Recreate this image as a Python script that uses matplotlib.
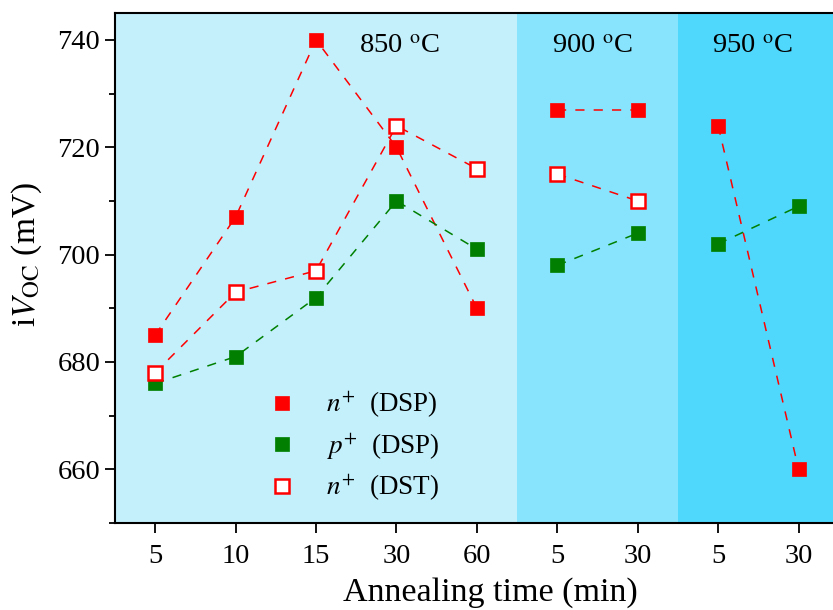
import matplotlib
matplotlib.use('Agg')
import matplotlib.pyplot as plt
from matplotlib.ticker import MultipleLocator

plt.rcParams['font.family'] = 'Liberation Serif'
plt.rcParams['mathtext.fontset'] = 'stix'

tick_labels = ['5', '10', '15', '30', '60', '5', '30', '5', '30']
temps = ['850', '900', '950']
groups = [[0, 1, 2, 3, 4], [5, 6], [7, 8]]

n_dsp = [685, 707, 740, 720, 690, 727, 727, 724, 660]
p_dsp = [676, 681, 692, 710, 701, 698, 704, 702, 709]
n_dst = [678, 693, 697, 724, 716, 715, 710]

band_colors = ['#C4F0FC', '#88E4FC', '#4FD8FC']

fig = plt.figure(figsize=(8.33, 6.10), dpi=100)
ax = fig.add_axes([0.138, 0.1426, 0.869, 0.836])

# temperature bands
for g, c, t in zip(groups, band_colors, temps):
    ax.axvspan(g[0] - 0.5, g[-1] + 0.5, color=c, lw=0, zorder=0)

label_x = [3.04, 5.44, 7.43]
for lx, t in zip(label_x, temps):
    ax.text(lx, 738.8, t + r' $^{\mathrm{o}}$C', fontsize=20.5, ha='center', va='center')

red = '#FF0000'
green = '#007F00'

def draw(vals, color, face, label):
    first = True
    for g in groups:
        idx = [i for i in g if i < len(vals)]
        if not idx:
            continue
        ys = [vals[i] for i in idx]
        ax.plot(idx, ys, color=color, lw=1.1, dashes=(6, 6), zorder=2)
        ax.plot(idx, ys, 's', color=color, mfc=face, mec=color, mew=1.8 if face == 'white' else 0.5,
                ms=9.5, ls='none', zorder=3, label=label if first else None)
        first = False

draw(n_dsp, red, red, r'$n^{+}$  (DSP)')
draw(p_dsp, green, green, r'$p^{+}$  (DSP)')
draw(n_dst, red, 'white', r'$n^{+}$  (DST)')

ax.set_xlim(-0.5, 8.5)
ax.set_ylim(650, 745)
ax.set_xticks(range(len(tick_labels)))
ax.set_xticklabels(tick_labels)
ax.yaxis.set_major_locator(MultipleLocator(20))
ax.yaxis.set_minor_locator(MultipleLocator(10))
ax.tick_params(axis='both', which='major', direction='out', length=7, width=1.3, labelsize=20.5)
ax.tick_params(axis='y', which='minor', direction='out', length=4, width=1.3)
ax.tick_params(axis='x', pad=8)
for s in ax.spines.values():
    s.set_linewidth(1.5)

ax.set_xlabel('Annealing time (min)', fontsize=24.5)
ax.set_ylabel(r'i$V_{\mathrm{OC}}$ (mV)', fontsize=24)
ax.xaxis.set_label_coords(0.518, -0.106)
ax.yaxis.set_label_coords(-0.098, 0.527)

ax.legend(loc='upper left', bbox_to_anchor=(0.175, 0.31), frameon=False, fontsize=19.5,
          handletextpad=1.0, labelspacing=0.38, handlelength=1.2)

fig.savefig('out.png', dpi=100)
